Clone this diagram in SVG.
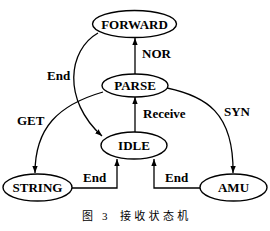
<svg xmlns="http://www.w3.org/2000/svg" width="270" height="231" viewBox="0 0 270 231">
<defs>
<marker id="ah" viewBox="0 0 10 10" refX="10" refY="5" markerWidth="7" markerHeight="7" markerUnits="userSpaceOnUse" orient="auto">
<path d="M0,1.2 L10,5 L0,8.8 Z" fill="#000"/>
</marker>
<style>
.n{fill:#fff;stroke:#000;stroke-width:1.4}
.e{fill:none;stroke:#000;stroke-width:1.3;marker-end:url(#ah)}
</style>
</defs>
<rect width="270" height="231" fill="#fff"/>
<g id="connectors">
<path class="e" d="M135,74 L135,38"/>
<path class="e" d="M135,132 L135,97"/>
<path class="e" d="M98,33 C68,50 62,100 102,136"/>
<path class="e" d="M103,92 C58,105 35,128 35,173"/>
<path class="e" d="M167,88 C205,96 234,112 233,173"/>
<path class="e" d="M72,188 L117,188 L117,159"/>
<path class="e" d="M200,188 L154,188 L154,159"/>
<g font-family="Liberation Serif, serif" font-size="13" font-weight="bold" fill="#000">
<text x="142" y="58">NOR</text>
<text x="143" y="118">Receive</text>
<text x="47" y="80">End</text>
<text x="17" y="125">GET</text>
<text x="224" y="116">SYN</text>
<text x="83" y="182">End</text>
<text x="165" y="182">End</text>
</g>
</g>
<g font-family="Liberation Serif, serif" font-size="13" font-weight="bold" fill="#000" text-anchor="middle">
<g id="FORWARD"><ellipse class="n" cx="134.5" cy="24" rx="42" ry="13.5"/><text x="134.5" y="28.5">FORWARD</text></g>
<g id="PARSE"><ellipse class="n" cx="135" cy="85.5" rx="33" ry="11.5"/><text x="135" y="90">PARSE</text></g>
<g id="IDLE"><ellipse class="n" cx="134" cy="145.5" rx="33" ry="13.5"/><text x="134" y="150">IDLE</text></g>
<g id="STRING"><ellipse class="n" cx="37.5" cy="187.5" rx="34.5" ry="13.5"/><text x="37.5" y="192">STRING</text></g>
<g id="AMU"><ellipse class="n" cx="233.5" cy="187.5" rx="33.5" ry="13.5"/><text x="233.5" y="192">AMU</text></g>
</g>
<g font-family="Liberation Serif, Noto Sans CJK SC, serif" font-size="11" fill="#000">
<text x="82" y="220">图</text>
<text x="102" y="220">3</text>
<text x="120" y="220" letter-spacing="3.3">接收状态机</text>
</g>
</svg>
